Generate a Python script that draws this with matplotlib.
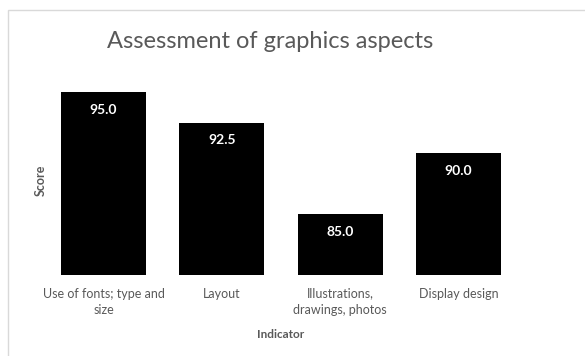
import matplotlib
matplotlib.use("Agg")
from matplotlib import pyplot as plt
from matplotlib.patches import Rectangle

categories = ["Use of fonts; type and\nsize", "Layout", "Illustrations,\ndrawings, photos", "Display design"]
scores = [95.0, 92.5, 85.0, 90.0]

plt.rcParams['font.family'] = ['Lato', 'DejaVu Sans']

W, H = 585, 356
fig = plt.figure(figsize=(W / 100, H / 100), dpi=100)

# chart border (right and bottom edges run off the picture)
fig.patches.append(Rectangle((8 / W, -0.1), 1.0, 1 - 10 / H + 0.1, transform=fig.transFigure,
                             fill=False, edgecolor='#d9d9d9', linewidth=1))

# axes placed in pixel coords: x 44.5..517.5, y 65..275
ax = fig.add_axes([44.5 / W, (H - 275) / H, 473 / W, 210 / H])
ymin = 80
ymax = ymin + 210 / 12.2
x = range(len(categories))
ax.bar(x, [s - ymin for s in scores], bottom=ymin, width=0.72, color='black')
for xi, s in zip(x, scores):
    ax.text(xi, s - 1.45, f"{s:.1f}", ha='center', va='center', color='white',
            fontsize=10, fontweight='bold')

ax.set_xlim(-0.5, len(categories) - 0.5)
ax.set_ylim(ymin, ymax)
ax.set_xticks(list(x))
ax.set_xticklabels(categories, fontsize=9, color='#595959', linespacing=1.45)
ax.tick_params(axis='x', length=0, pad=9)
ax.set_yticks([])
for sp in ax.spines.values():
    sp.set_visible(False)

fig.text(281 / W, 1 - 334 / H, "Indicator", ha='center', va='center', fontsize=8.5,
         fontweight='bold', color='#595959')
fig.text(41 / W, 1 - 180 / H, "Score", ha='center', va='center', rotation=90, fontsize=9,
         fontweight='bold', color='#595959')
fig.text(270 / W, 1 - 41 / H, "Assessment of graphics aspects", ha='center', va='center',
         fontsize=17, color='#595959')

fig.savefig("out.png", dpi=100)
